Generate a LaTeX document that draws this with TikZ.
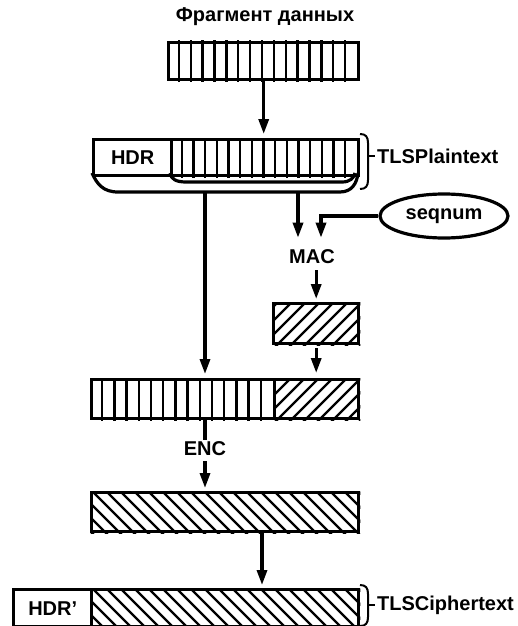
\documentclass[tikz,border=0pt]{standalone}
\usepackage{fontspec}
\setmainfont{Liberation Sans}
\usetikzlibrary{arrows.meta,calc,shapes.geometric}
\begin{document}
\begin{tikzpicture}[x=1pt,y=-1pt,
  lbl/.style={font=\fontsize{20}{24}\selectfont\bfseries, inner sep=2pt},
  box/.style={draw, line width=3.4pt, rectangle, minimum height=37pt, inner sep=0pt, anchor=north west, font=\fontsize{20}{24}\selectfont\bfseries},
  stripe/.style={line width=2.3pt},
  arr/.style={line width=3.2pt, -{Triangle[length=15pt,width=10pt]}},
  conn/.style={line width=3.2pt},
  brace/.style={line width=2pt},
  ]
\useasboundingbox (0,0) rectangle (517,626);

% title and top data fragment
\node[lbl] (title) at (265,17) {Фрагмент данных};
\node[box, minimum width=190pt, minimum height=37pt] (frag) at (167,41) {};
\begin{scope}
  \clip (frag.north west) rectangle (frag.south east);
  \foreach \k in {1,...,15} \draw[stripe] ({167+\k*11.875},0) -- ++(0,700);
\end{scope}

% TLSPlaintext
\node[box, minimum width=78pt, minimum height=36pt] (hdr1) at (92,138) {HDR};
\node[box, minimum width=187pt, minimum height=36pt] (data1) at (170,138) {};
\begin{scope}
  \clip (data1.north west) rectangle (data1.south east);
  \foreach \k in {1,...,15} \draw[stripe] ({170+\k*11.6875},0) -- ++(0,700);
\end{scope}
\draw[arr, shorten >=4pt] (frag.south) -- (frag.south |- data1.north);
% tray under the record
\draw[conn] (92,173) .. controls (97,184) and (103,192) .. (118,192) -- (340,192) .. controls (352,192) and (357,183) .. (358,173);
\draw[conn] (170,173) .. controls (171,179) and (176,182) .. (186,182) -- (342,182) .. controls (350,182) and (354,178) .. (355,173);
\coordinate (tl) at (205,192);
\coordinate (tr) at (298,192);
% brace and label
\draw[brace] (360,134) .. controls (366,134) and (368,137) .. (368,143) -- (368,180) .. controls (368,186) and (366,189) .. (360,189);
\node[lbl, anchor=west] (tlsp) at (375,156) {TLSPlaintext};
\draw[brace] (368,156) -- (tlsp.west);

% seqnum and MAC
\node[draw, ellipse, line width=3.2pt, minimum width=128pt, minimum height=44pt, lbl] (seq) at (444,216) {seqnum};
\node[lbl] (mac) at (312,257) {MAC};
\coordinate (macr) at (321,0);
\draw[arr, shorten >=10pt] (tr) -- (tr |- mac.north);
\draw[arr, shorten >=10pt] (seq.west) -| (macr |- mac.north);

% MAC value box
\node[box, minimum width=85pt, minimum height=40pt] (mbox) at (272,302) {};
\begin{scope}
  \clip (mbox.north west) rectangle (mbox.south east);
  \foreach \x in {216,230,...,370} \draw[stripe] (\x,350) -- ++(60,-60);
\end{scope}
\draw[arr, shorten <=4pt, shorten >=3pt] (mbox.north |- mac.south) -- (mbox.north);

% combined data + MAC
\node[box, minimum width=183pt, minimum height=39pt] (comb) at (90,378) {};
\node[box, minimum width=84pt, minimum height=39pt] (combm) at (273,378) {};
\begin{scope}
  \clip (comb.north west) rectangle (comb.south east);
  \foreach \k in {1,...,14} \draw[stripe] ({90+\k*12.2},0) -- ++(0,700);
\end{scope}
\begin{scope}
  \clip (combm.north west) rectangle (combm.south east);
  \foreach \x in {216,230,...,370} \draw[stripe] (\x,425) -- ++(60,-60);
\end{scope}
\draw[arr, shorten >=4pt] (tl) -- (tl |- comb.north);
\draw[arr, shorten <=3pt, shorten >=5pt] (mbox.south) -- (mbox.south |- combm.north);

% ENC
\node[lbl] (enc) at (205,449) {ENC};
\draw[conn] (enc.north |- comb.south) -- (enc.north);

% encrypted block
\node[box, minimum width=267pt, minimum height=39pt] (box4) at (90,491) {};
\begin{scope}
  \clip (box4.north west) rectangle (box4.south east);
  \foreach \x in {30,44,...,370} \draw[stripe] (\x,485) -- ++(55,55);
\end{scope}
\draw[arr, shorten <=3pt, shorten >=3pt] (enc.south) -- (enc.south |- box4.north);

% TLSCiphertext
\coordinate (mid) at (262,0);
\node[box, minimum width=78pt, minimum height=37pt] (hdr2) at (12,588) {HDR'};
\node[box, minimum width=267pt, minimum height=37pt] (ciph) at (90,588) {};
\begin{scope}
  \clip (ciph.north west) rectangle (ciph.south east);
  \foreach \x in {30,44,...,370} \draw[stripe] (\x,582) -- ++(50,50);
\end{scope}
\draw[arr, shorten >=3pt] (box4.south -| mid) -- (mid |- ciph.north);
\draw[brace] (360,585) .. controls (366,585) and (368,588) .. (368,594) -- (368,617) .. controls (368,623) and (366,626) .. (360,626);
\node[lbl, anchor=west] (tlsc) at (375,605) {TLSCiphertext};
\draw[brace] (368,605) -- (tlsc.west);
\end{tikzpicture}
\end{document}
